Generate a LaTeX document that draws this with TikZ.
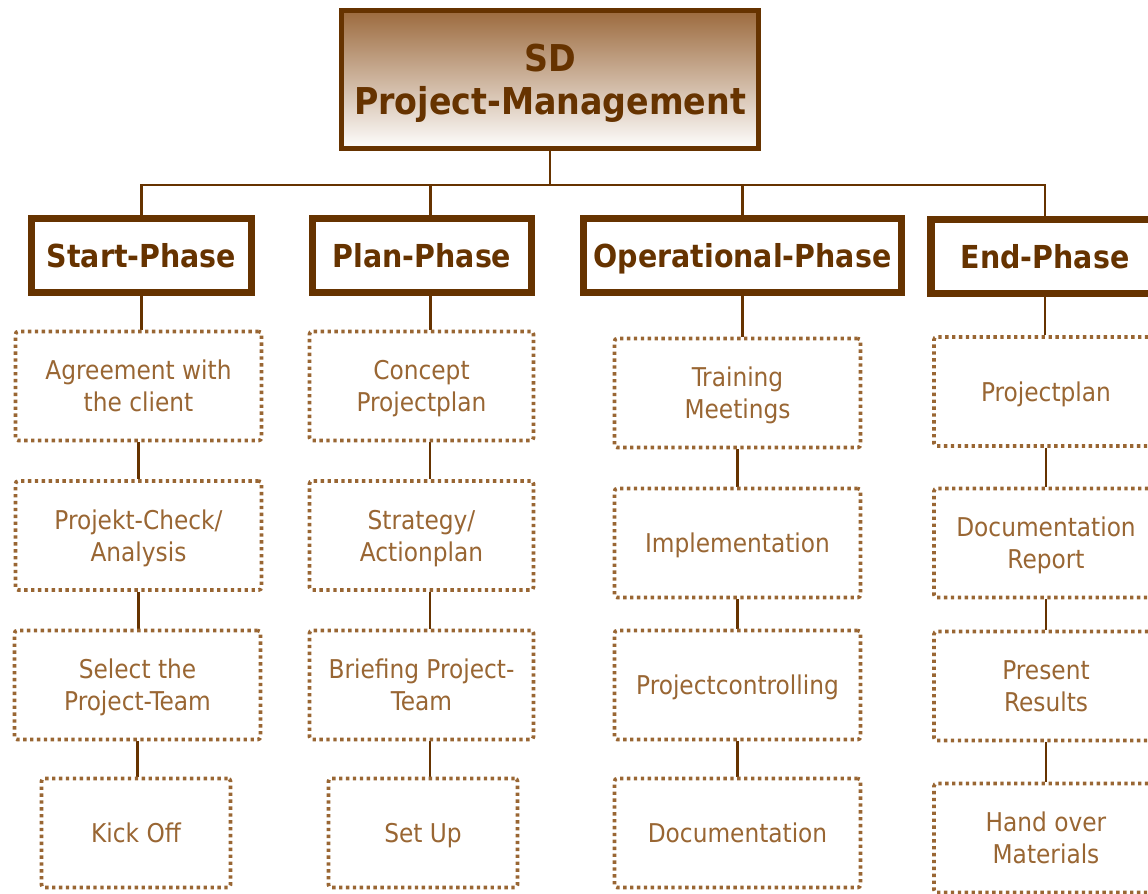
\documentclass[tikz,border=0pt]{standalone}
\usepackage{fontspec}
\setmainfont{DejaVu Sans Condensed}
\usepackage{tikz}
\pgfdeclarelayer{background}
\pgfdeclarelayer{foreground}
\pgfsetlayers{background,main,foreground}
\definecolor{darkbrown}{HTML}{663300}
\definecolor{lightbrown}{HTML}{996633}
\definecolor{topbrown}{HTML}{9B693C}
\tikzset{
  titlebox/.style={draw=darkbrown, line width=2.1pt, top color=topbrown, bottom color=white,
    text=darkbrown, align=center, font=\bfseries\fontsize{26.3}{30.6}\selectfont, text depth=0pt,
    minimum width=10.475cm, minimum height=3.5cm, inner sep=0pt},
  phasebox/.style={draw=darkbrown, line width=5pt, fill=white, text=darkbrown,
    font=\bfseries\fontsize{22.5}{26}\selectfont, text height=16.5pt, text depth=0pt,
    minimum height=1.85cm, inner sep=0pt},
  taskbox/.style={draw=lightbrown, line width=2.6pt, dash pattern=on 2.4pt off 2.5pt,
    rounded corners=2pt, fill=white, text=lightbrown, align=center, text depth=0pt,
    font=\fontsize{18.4}{22.8}\selectfont, minimum width=6.15cm, minimum height=2.725cm, inner sep=0pt},
  link/.style={draw=darkbrown, line width=1.8pt}
}
\begin{document}
\begin{tikzpicture}[x=0.025cm, y=-0.025cm]
\useasboundingbox (0,0) rectangle (1148,893);
\clip (0,0) rectangle (1148,893);
\begin{pgfonlayer}{foreground}
\node[titlebox] (pm) at (550,79.5) {SD\\Project-Management};
\draw[darkbrown, line width=0.8pt] ([shift={(4,4)}]pm.north west) rectangle ([shift={(-4,-4)}]pm.south east);
\node[phasebox, minimum width=5.5cm] (start) at (141.5,255.5) {Start-Phase};
\node[phasebox, minimum width=5.475cm] (plan) at (422,255.5) {Plan-Phase};
\node[phasebox, minimum width=7.95cm] (oper) at (742.5,255.5) {Operational-Phase};
\node[phasebox, minimum width=5.7cm] (end) at (1045,256.5) {End-Phase};
\node[taskbox] (s1) at (138.5,386) {Agreement with\\the client};
\node[taskbox] (s2) at (138.5,535.5) {Projekt-Check/\\Analysis};
\node[taskbox] (s3) at (137.5,685) {Select the\\Project-Team};
\node[taskbox, minimum width=4.725cm] (s4) at (136,833) {Kick Off};
\node[taskbox, minimum width=5.6cm] (p1) at (421.5,386) {Concept\\Projectplan};
\node[taskbox, minimum width=5.6cm] (p2) at (421.5,535.5) {Strategy/\\Actionplan};
\node[taskbox, minimum width=5.6cm] (p3) at (421.5,685) {Briefing Project-\\Team};
\node[taskbox, minimum width=4.725cm] (p4) at (423,833) {Set Up};
\node[taskbox] (o1) at (737.5,393) {Training\\Meetings};
\node[taskbox] (o2) at (737.5,543) {Implementation};
\node[taskbox] (o3) at (737.5,685) {Projectcontrolling};
\node[taskbox] (o4) at (737.5,833) {Documentation};
\node[taskbox, minimum width=5.6cm] (e1) at (1046,391.5) {Projectplan};
\node[taskbox, minimum width=5.6cm] (e2) at (1046,543) {Documentation\\Report};
\node[taskbox, minimum width=5.6cm] (e3) at (1046,686) {Present\\Results};
\node[taskbox, minimum width=5.6cm] (e4) at (1046,838) {Hand over\\Materials};
\end{pgfonlayer}
\begin{pgfonlayer}{background}
\coordinate (bus) at (550,185);
\draw[link] (pm.south) -- (bus);
\draw[link] (bus) -| (start.north);
\draw[link] (bus) -| ([xshift=6]plan.north);
\draw[link] (bus) -| (oper.north);
\draw[link] (bus) -| (end.north);
\draw[link] (start.south) -- (start.south |- s1.north);
\draw[link] (s1.south) -- (s1.south |- s2.north);
\draw[link] (s2.south) -- (s2.south |- s3.north);
\draw[link] (s3.south) -- (s3.south |- s4.north);
\draw[link] ([xshift=6]plan.south) -- ([xshift=6]plan.south |- p1.north);
\draw[link] ([xshift=6]p1.south) -- ([xshift=6]p1.south |- p2.north);
\draw[link] ([xshift=6]p2.south) -- ([xshift=6]p2.south |- p3.north);
\draw[link] ([xshift=6]p3.south) -- ([xshift=6]p3.south |- p4.north);
\draw[link] (oper.south) -- (oper.south |- o1.north);
\draw[link] (o1.south) -- (o1.south |- o2.north);
\draw[link] (o2.south) -- (o2.south |- o3.north);
\draw[link] (o3.south) -- (o3.south |- o4.north);
\draw[link] (end.south) -- (end.south |- e1.north);
\draw[link] (e1.south) -- (e1.south |- e2.north);
\draw[link] (e2.south) -- (e2.south |- e3.north);
\draw[link] (e3.south) -- (e3.south |- e4.north);
\end{pgfonlayer}
\end{tikzpicture}
\end{document}
